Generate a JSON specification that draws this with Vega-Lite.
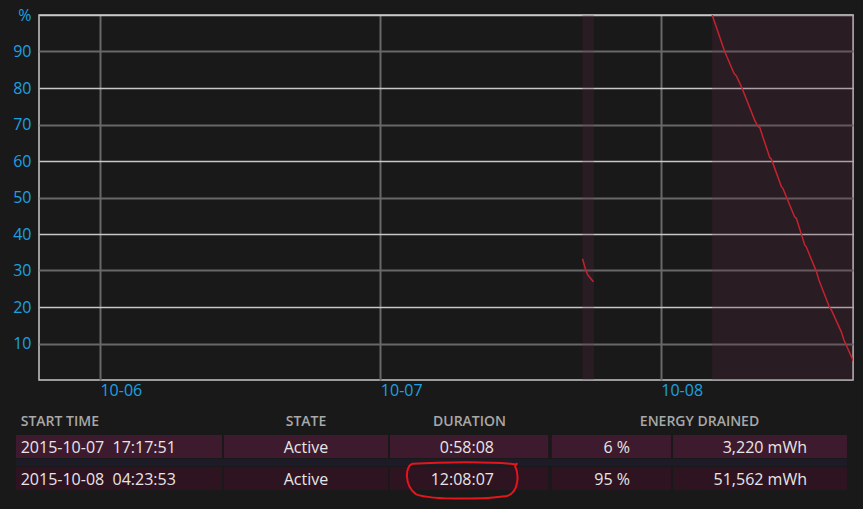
{
  "$schema": "https://vega.github.io/schema/vega-lite/v6.json",
  "width": 814,
  "height": 365,
  "autosize": {"type": "none"},
  "padding": {"left": 39, "top": 15, "right": 10, "bottom": 129},
  "background": "#191919",
  "config": {
    "view": {"stroke": "#c8c8c8", "strokeWidth": 1.5},
    "font": "Open Sans",
    "text": {"font": "Open Sans"}
  },
  "datasets": {
    "sessions": [
      {"n": 1, "start": "2015-10-07T17:17:51", "end": "2015-10-07T18:15:59", "state": "Active", "duration": "0:58:08", "drained_pct": "6 %", "drained_mwh": "3,220 mWh", "highlight": false},
      {"n": 2, "start": "2015-10-08T04:23:53", "end": "2015-10-08T16:32:00", "state": "Active", "duration": "12:08:07", "drained_pct": "95 %", "drained_mwh": "51,562 mWh", "highlight": true}
    ],
    "battery": [
      {"session": 1, "t": "2015-10-07T17:17:51", "pct": 33.2},
      {"session": 1, "t": "2015-10-07T17:35:00", "pct": 30.1},
      {"session": 1, "t": "2015-10-07T17:45:00", "pct": 28.8},
      {"session": 1, "t": "2015-10-07T18:11:00", "pct": 27.1},
      {"session": 1, "t": "2015-10-07T18:15:59", "pct": 27.0},
      {"session": 2, "t": "2015-10-08T04:23:53", "pct": 100},
      {"session": 2, "t": "2015-10-08T05:28:00", "pct": 90},
      {"session": 2, "t": "2015-10-08T06:16:00", "pct": 84},
      {"session": 2, "t": "2015-10-08T06:28:00", "pct": 83.3},
      {"session": 2, "t": "2015-10-08T06:57:00", "pct": 80},
      {"session": 2, "t": "2015-10-08T08:02:00", "pct": 71.2},
      {"session": 2, "t": "2015-10-08T08:19:00", "pct": 69.4},
      {"session": 2, "t": "2015-10-08T08:28:00", "pct": 69.2},
      {"session": 2, "t": "2015-10-08T09:19:00", "pct": 61},
      {"session": 2, "t": "2015-10-08T09:28:00", "pct": 60.5},
      {"session": 2, "t": "2015-10-08T10:19:00", "pct": 53},
      {"session": 2, "t": "2015-10-08T10:27:00", "pct": 52.5},
      {"session": 2, "t": "2015-10-08T11:27:00", "pct": 44.7},
      {"session": 2, "t": "2015-10-08T11:36:00", "pct": 44.3},
      {"session": 2, "t": "2015-10-08T12:19:00", "pct": 37},
      {"session": 2, "t": "2015-10-08T12:27:00", "pct": 36.5},
      {"session": 2, "t": "2015-10-08T13:19:00", "pct": 29.7},
      {"session": 2, "t": "2015-10-08T13:32:00", "pct": 27.4},
      {"session": 2, "t": "2015-10-08T14:27:00", "pct": 19.8},
      {"session": 2, "t": "2015-10-08T14:36:00", "pct": 19.2},
      {"session": 2, "t": "2015-10-08T15:27:00", "pct": 13.2},
      {"session": 2, "t": "2015-10-08T15:40:00", "pct": 11},
      {"session": 2, "t": "2015-10-08T16:26:00", "pct": 5.5},
      {"session": 2, "t": "2015-10-08T16:32:00", "pct": 5}
    ]
  },
  "layer": [
    {
      "layer": [
        {
          "data": {"name": "sessions"},
          "mark": {"type": "rect", "fill": "#612945", "opacity": 0.25, "clip": true},
          "encoding": {
            "x": {
              "field": "start", "type": "temporal",
              "scale": {"domain": [{"year": 2015, "month": 10, "date": 5, "hours": 18, "minutes": 47}, {"year": 2015, "month": 10, "date": 8, "hours": 16, "minutes": 27}]},
              "axis": {
                "values": [{"year": 2015, "month": 10, "date": 6}, {"year": 2015, "month": 10, "date": 7}, {"year": 2015, "month": 10, "date": 8}],
                "format": "%m-%d", "title": null, "domain": false, "ticks": false,
                "labelAlign": "left", "labelBaseline": "top", "labelPadding": 2,
                "labelColor": "#1ba1e2", "labelFont": "Open Sans", "labelFontSize": 16,
                "labelFlush": false, "labelOverlap": false, "labelBound": false,
                "grid": true, "gridColor": "#686868", "gridWidth": 2
              }
            },
            "x2": {"field": "end"}
          }
        },
        {
          "data": {"name": "battery"},
          "mark": {"type": "line", "color": "#c1232f", "strokeWidth": 1.5, "clip": true},
          "encoding": {
            "x": {"field": "t", "type": "temporal"},
            "y": {
              "field": "pct", "type": "quantitative",
              "scale": {"domain": [0, 100], "nice": false},
              "axis": {
                "values": [10, 20, 30, 40, 50, 60, 70, 80, 90, 100],
                "labelExpr": "datum.value == 100 ? '%' : datum.label",
                "title": null, "domain": false, "ticks": false,
                "labelColor": "#1ba1e2", "labelFont": "Open Sans", "labelFontSize": 16, "labelPadding": 8,
                "labelFlush": false, "labelOverlap": false,
                "grid": true,
                "gridColor": {"condition": {"test": "datum.value % 20 === 0", "value": "#c8c8c8"}, "value": "#686868"},
                "gridWidth": {"condition": {"test": "datum.value % 20 === 0", "value": 1.5}, "value": 2.2}
              }
            },
            "detail": {"field": "session", "type": "nominal"}
          }
        }
      ]
    },
    {
      "layer": [
        {
          "data": {"name": "sessions"},
          "mark": {"type": "bar", "orient": "horizontal", "size": 23},
          "encoding": {
            "x": {"datum": 0, "type": "quantitative", "scale": {"domain": [0, 1, 2, 3, 4, 5], "range": [-23, 184, 350, 511, 633, 808], "zero": false, "nice": false, "padding": 0}, "axis": null},
            "x2": {"datum": 5},
            "y": {"field": "n", "type": "quantitative", "scale": {"domain": [1, 2], "range": [431.5, 463.5], "zero": false, "nice": false, "padding": 0}, "axis": null},
            "color": {"field": "n", "type": "ordinal", "scale": {"range": ["#3e1a2e", "#2d1420"]}, "legend": null}
          }
        },
        {
          "data": {"values": [{}]},
          "mark": {"type": "rule", "stroke": "#191919", "strokeWidth": 2},
          "encoding": {"x": {"datum": 1, "type": "quantitative", "axis": null}, "y": {"datum": 0.6, "type": "quantitative", "axis": null}, "y2": {"datum": 2.5}}
        },
        {
          "data": {"values": [{}]},
          "mark": {"type": "rule", "stroke": "#191919", "strokeWidth": 2},
          "encoding": {"x": {"datum": 2, "type": "quantitative", "axis": null}, "y": {"datum": 0.6, "type": "quantitative", "axis": null}, "y2": {"datum": 2.5}}
        },
        {
          "data": {"values": [{}]},
          "mark": {"type": "rule", "stroke": "#191919", "strokeWidth": 3.5},
          "encoding": {"x": {"datum": 3, "type": "quantitative", "axis": null}, "y": {"datum": 0.6, "type": "quantitative", "axis": null}, "y2": {"datum": 2.5}}
        },
        {
          "data": {"values": [{}]},
          "mark": {"type": "rule", "stroke": "#191919", "strokeWidth": 2},
          "encoding": {"x": {"datum": 4, "type": "quantitative", "axis": null}, "y": {"datum": 0.6, "type": "quantitative", "axis": null}, "y2": {"datum": 2.5}}
        },
        {
          "data": {"values": [{}]},
          "mark": {"type": "rule", "stroke": "#1c1b27", "strokeWidth": 7},
          "encoding": {"x": {"datum": 0, "type": "quantitative", "axis": null}, "x2": {"datum": 5}, "y": {"datum": 1.5, "type": "quantitative", "axis": null}}
        },
        {
          "data": {"values": [{}]},
          "mark": {"type": "text", "align": "left", "baseline": "middle", "dx": 4.7, "dy": -1, "font": "Open Sans", "fontSize": 14, "fontWeight": 600, "color": "#a8a8a8"},
          "encoding": {"x": {"datum": 0, "type": "quantitative", "axis": null}, "y": {"datum": 0.27, "type": "quantitative", "axis": null}, "text": {"value": "START TIME"}}
        },
        {
          "data": {"values": [{}]},
          "mark": {"type": "text", "align": "center", "baseline": "middle", "dy": -1, "font": "Open Sans", "fontSize": 14, "fontWeight": 600, "color": "#a8a8a8"},
          "encoding": {"x": {"datum": 1.5, "type": "quantitative", "axis": null}, "y": {"datum": 0.27, "type": "quantitative", "axis": null}, "text": {"value": "STATE"}}
        },
        {
          "data": {"values": [{}]},
          "mark": {"type": "text", "align": "center", "baseline": "middle", "dy": -1, "font": "Open Sans", "fontSize": 14, "fontWeight": 600, "color": "#a8a8a8"},
          "encoding": {"x": {"datum": 2.5, "type": "quantitative", "axis": null}, "y": {"datum": 0.27, "type": "quantitative", "axis": null}, "text": {"value": "DURATION"}}
        },
        {
          "data": {"values": [{}]},
          "mark": {"type": "text", "align": "center", "baseline": "middle", "dx": 27.5, "dy": -1, "font": "Open Sans", "fontSize": 14, "fontWeight": 600, "color": "#a8a8a8"},
          "encoding": {"x": {"datum": 4, "type": "quantitative", "axis": null}, "y": {"datum": 0.27, "type": "quantitative", "axis": null}, "text": {"value": "ENERGY DRAINED"}}
        },
        {
          "data": {"name": "sessions"},
          "mark": {"type": "text", "align": "left", "baseline": "middle", "dx": 4.7, "dy": 1, "font": "Open Sans", "fontSize": 16, "color": "#e6e6e6"},
          "encoding": {"x": {"datum": 0, "type": "quantitative", "axis": null}, "y": {"field": "n", "type": "quantitative", "axis": null}, "text": {"field": "start", "type": "temporal", "format": "%Y-%m-%d\u00a0 %H:%M:%S"}}
        },
        {
          "data": {"name": "sessions"},
          "mark": {"type": "text", "align": "center", "baseline": "middle", "dy": 1, "font": "Open Sans", "fontSize": 16, "color": "#e6e6e6"},
          "encoding": {"x": {"datum": 1.5, "type": "quantitative", "axis": null}, "y": {"field": "n", "type": "quantitative", "axis": null}, "text": {"field": "state", "type": "nominal"}}
        },
        {
          "data": {"name": "sessions"},
          "mark": {"type": "text", "align": "right", "baseline": "middle", "dx": -56, "dy": 1, "font": "Open Sans", "fontSize": 16, "color": "#e6e6e6"},
          "encoding": {"x": {"datum": 3, "type": "quantitative", "axis": null}, "y": {"field": "n", "type": "quantitative", "axis": null}, "text": {"field": "duration", "type": "nominal"}}
        },
        {
          "data": {"name": "sessions"},
          "mark": {"type": "text", "align": "right", "baseline": "middle", "dx": -42, "dy": 1, "font": "Open Sans", "fontSize": 16, "color": "#e6e6e6"},
          "encoding": {"x": {"datum": 4, "type": "quantitative", "axis": null}, "y": {"field": "n", "type": "quantitative", "axis": null}, "text": {"field": "drained_pct", "type": "nominal"}}
        },
        {
          "data": {"name": "sessions"},
          "mark": {"type": "text", "align": "right", "baseline": "middle", "dx": -40, "dy": 1, "font": "Open Sans", "fontSize": 16, "color": "#e6e6e6"},
          "encoding": {"x": {"datum": 5, "type": "quantitative", "axis": null}, "y": {"field": "n", "type": "quantitative", "axis": null}, "text": {"field": "drained_mwh", "type": "nominal"}}
        },
        {
          "data": {"name": "sessions"},
          "transform": [{"filter": "datum.highlight"}],
          "mark": {"type": "point", "shape": "M0.98,-0.25 C0.6,-0.3 -0.3,-0.3 -0.86,-0.26 C-1.0,-0.24 -1.02,0.13 -0.8,0.28 C-0.5,0.39 0.5,0.36 0.8,0.31 C1.02,0.25 1.02,-0.07 0.95,-0.22 L0.99,-0.27", "size": 12769, "filled": false, "stroke": "#e8141c", "strokeWidth": 2, "opacity": 1},
          "encoding": {"x": {"datum": 2.45, "type": "quantitative", "axis": null}, "y": {"field": "n", "type": "quantitative", "axis": null}}
        }
      ]
    }
  ],
  "resolve": {"scale": {"x": "independent", "y": "independent"}}
}
